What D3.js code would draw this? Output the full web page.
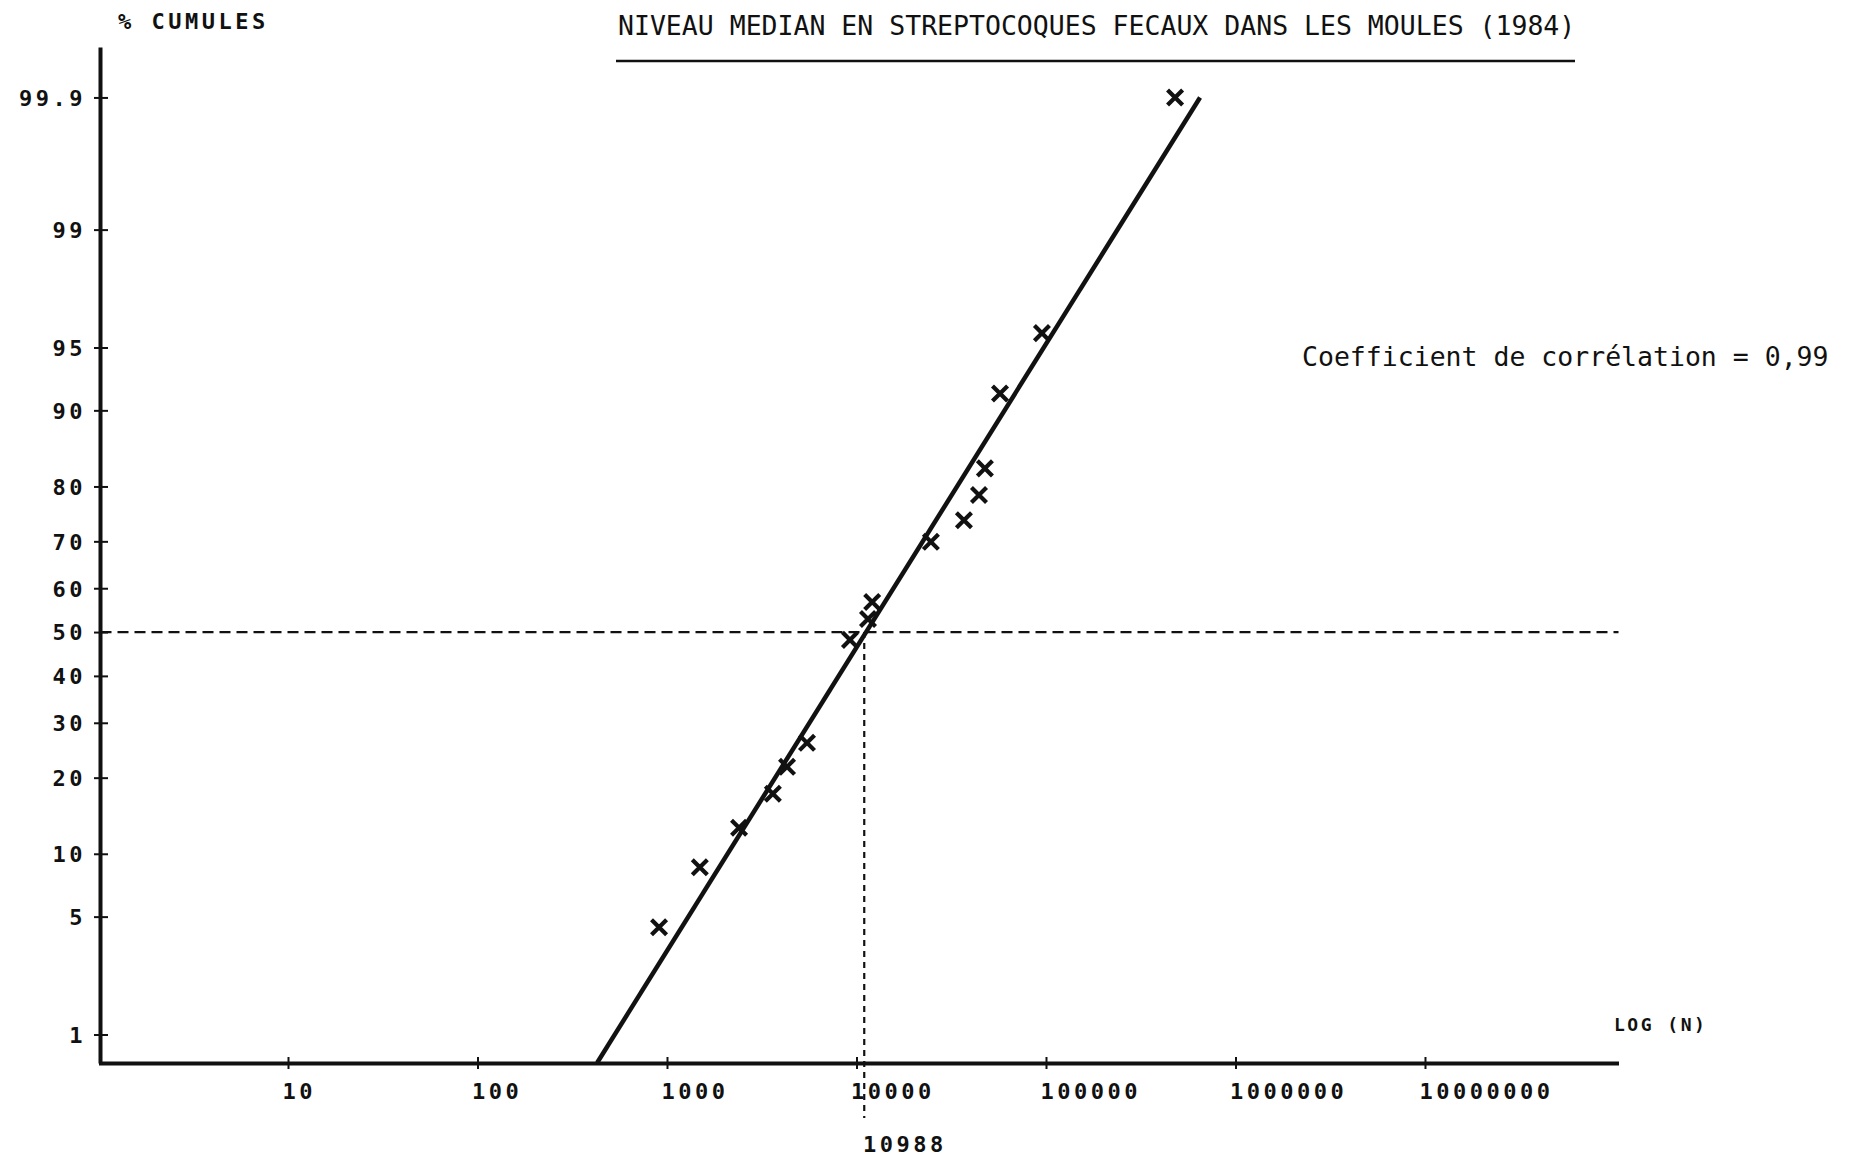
<!DOCTYPE html>
<html><head><meta charset="utf-8">
<script src="https://cdn.jsdelivr.net/npm/d3@7"></script>
<style>body{margin:0;background:#fff}</style>
</head><body><svg id="c" width="1850" height="1162"></svg>
<script>
// ---------- data ----------
const title = "NIVEAU MEDIAN EN STREPTOCOQUES FECAUX DANS LES MOULES (1984)";
const yAxisTitle = "% CUMULES";
const xAxisTitle = "LOG (N)";
const annotation = "Coefficient de corrélation = 0,99";
const medianN = 10988;
const medianPct = 50;
const xTickValues = [10, 100, 1000, 10000, 100000, 1000000, 10000000];
const xTickLabels = ["10", "100", "1000", "10000", "100000", "1000000", "10000000"];
const yTickValues = [1, 5, 10, 20, 30, 40, 50, 60, 70, 80, 90, 95, 99, 99.9];
const yTickLabels = ["1", "5", "10", "20", "30", "40", "50", "60", "70", "80", "90", "95", "99", "99.9"];
const pointN   = [908, 1490, 2400, 3620, 4300, 5480, 9240, 11500, 12100, 24700, 36900, 44300, 47600, 57200, 95200, 480000];
const pointPct = [4.4, 8.7, 12.9, 17.5, 21.8, 26.1, 48.2, 53.0, 56.9, 69.9, 74.1, 78.6, 82.8, 91.6, 95.8, 99.9];
const fitN   = [428, 650000];
const fitPct = [0.64, 99.9];
const xDomain = [1, 1.05e8];
const yDomainPct = [0.637, 99.964];

// ---------- probit transform (inverse normal CDF, Acklam) ----------
function probit(p) {
  const a = [-3.969683028665376e+01, 2.209460984245205e+02, -2.759285104469687e+02, 1.383577518672690e+02, -3.066479806614716e+01, 2.506628277459239e+00];
  const b = [-5.447609879822406e+01, 1.615858368580409e+02, -1.556989798598866e+02, 6.680131188771972e+01, -1.328068155288572e+01];
  const c = [-7.784894002430293e-03, -3.223964580411365e-01, -2.400758277161838e+00, -2.549732539343734e+00, 4.374664141464968e+00, 2.938163982698783e+00];
  const d = [7.784695709041462e-03, 3.224671290700398e-01, 2.445134137142996e+00, 3.754408661907416e+00];
  const pl = 0.02425, ph = 1 - pl;
  let q, r;
  if (p < pl) { q = Math.sqrt(-2 * Math.log(p)); return (((((c[0]*q+c[1])*q+c[2])*q+c[3])*q+c[4])*q+c[5]) / ((((d[0]*q+d[1])*q+d[2])*q+d[3])*q+1); }
  if (p <= ph) { q = p - 0.5; r = q*q; return (((((a[0]*r+a[1])*r+a[2])*r+a[3])*r+a[4])*r+a[5])*q / (((((b[0]*r+b[1])*r+b[2])*r+b[3])*r+b[4])*r+1); }
  q = Math.sqrt(-2 * Math.log(1 - p)); return -(((((c[0]*q+c[1])*q+c[2])*q+c[3])*q+c[4])*q+c[5]) / ((((d[0]*q+d[1])*q+d[2])*q+d[3])*q+1);
}

// ---------- layout ----------
const axisX = 100, axisY = 1063, topY = 47;
const svg = d3.select("#c");
const ink = "#111";
const monoFont = "'DejaVu Sans Mono', 'Liberation Mono', monospace";

const x = d3.scaleLog().domain(xDomain).range([98.5, 1618.5]);
const yz = d3.scaleLinear().domain(yDomainPct.map(p => probit(p / 100))).range([axisY, topY]);
const y = pct => yz(probit(pct / 100));

function dotMatrix(sel, size, spacing) {
  sel.style("font-family", monoFont).style("font-size", size + "px").style("font-weight", "bold")
     .style("letter-spacing", spacing + "px").attr("fill", ink);
}

// ---------- axes ----------
const gx = svg.append("g").attr("transform", `translate(0,${axisY})`)
  .call(d3.axisBottom(x).tickValues(xTickValues).tickFormat((d, i) => xTickLabels[i]).tickSizeOuter(0));
gx.select(".domain").attr("stroke", ink).attr("stroke-width", 4);
gx.selectAll(".tick line").attr("y1", -6).attr("y2", 6).attr("stroke", ink).attr("stroke-width", 2);
gx.selectAll(".tick text").attr("x", -6).attr("y", 36).attr("dy", 0).attr("text-anchor", "start")
  .call(dotMatrix, 22, 3.5);

const gy = svg.append("g").attr("transform", `translate(${axisX},0)`)
  .call(d3.axisLeft(yz).tickValues(yTickValues.map(p => probit(p / 100))).tickFormat((d, i) => yTickLabels[i]).tickSizeOuter(0));
gy.select(".domain").attr("stroke", ink).attr("stroke-width", 4);
gy.selectAll(".tick line").attr("x1", -6).attr("x2", 8).attr("stroke", ink).attr("stroke-width", 2);
gy.selectAll(".tick text").attr("x", -14).attr("dy", "0.36em").attr("text-anchor", "end")
  .call(dotMatrix, 22, 3.5);

// ---------- median reference lines ----------
svg.append("line")
  .attr("x1", x(xDomain[0]) + 2).attr("x2", x(xDomain[1]))
  .attr("y1", y(medianPct)).attr("y2", y(medianPct))
  .attr("stroke", ink).attr("stroke-width", 2.2).attr("stroke-dasharray", "11,6");
svg.append("line")
  .attr("x1", x(medianN)).attr("x2", x(medianN))
  .attr("y1", y(medianPct)).attr("y2", axisY + 55)
  .attr("stroke", ink).attr("stroke-width", 2.2).attr("stroke-dasharray", "6,5");

// ---------- regression line ----------
const fitData = fitN.map((n, i) => ({ n, p: fitPct[i] }));
svg.append("path").datum(fitData)
  .attr("d", d3.line().x(d => x(d.n)).y(d => y(d.p)))
  .attr("fill", "none").attr("stroke", ink).attr("stroke-width", 4.5);

// ---------- points ----------
const pts = pointN.map((n, i) => ({ n, p: pointPct[i] }));
svg.append("g").selectAll("path").data(pts).join("path")
  .attr("transform", d => `translate(${x(d.n)},${y(d.p)})`)
  .attr("d", d3.symbol(d3.symbolX, 150))
  .attr("fill", "none").attr("stroke", ink).attr("stroke-width", 4.2);

// ---------- texts ----------
svg.append("text").attr("x", 618).attr("y", 35).text(title)
  .style("font-family", monoFont).style("font-size", "26.5px").attr("fill", ink);
svg.append("line").attr("x1", 616).attr("x2", 1575).attr("y1", 61).attr("y2", 61)
  .attr("stroke", ink).attr("stroke-width", 2.5);
svg.append("text").attr("x", 118).attr("y", 29).text(yAxisTitle).call(dotMatrix, 22, 3.5);
svg.append("text").attr("x", 1614).attr("y", 1031).text(xAxisTitle).call(dotMatrix, 18, 2.5);
svg.append("text").attr("x", 863).attr("y", 1152).text(String(medianN)).call(dotMatrix, 22, 3.5);
svg.append("text").attr("x", 1302).attr("y", 366).text(annotation)
  .style("font-family", monoFont).style("font-size", "26.5px").attr("fill", ink);
</script></body></html>
